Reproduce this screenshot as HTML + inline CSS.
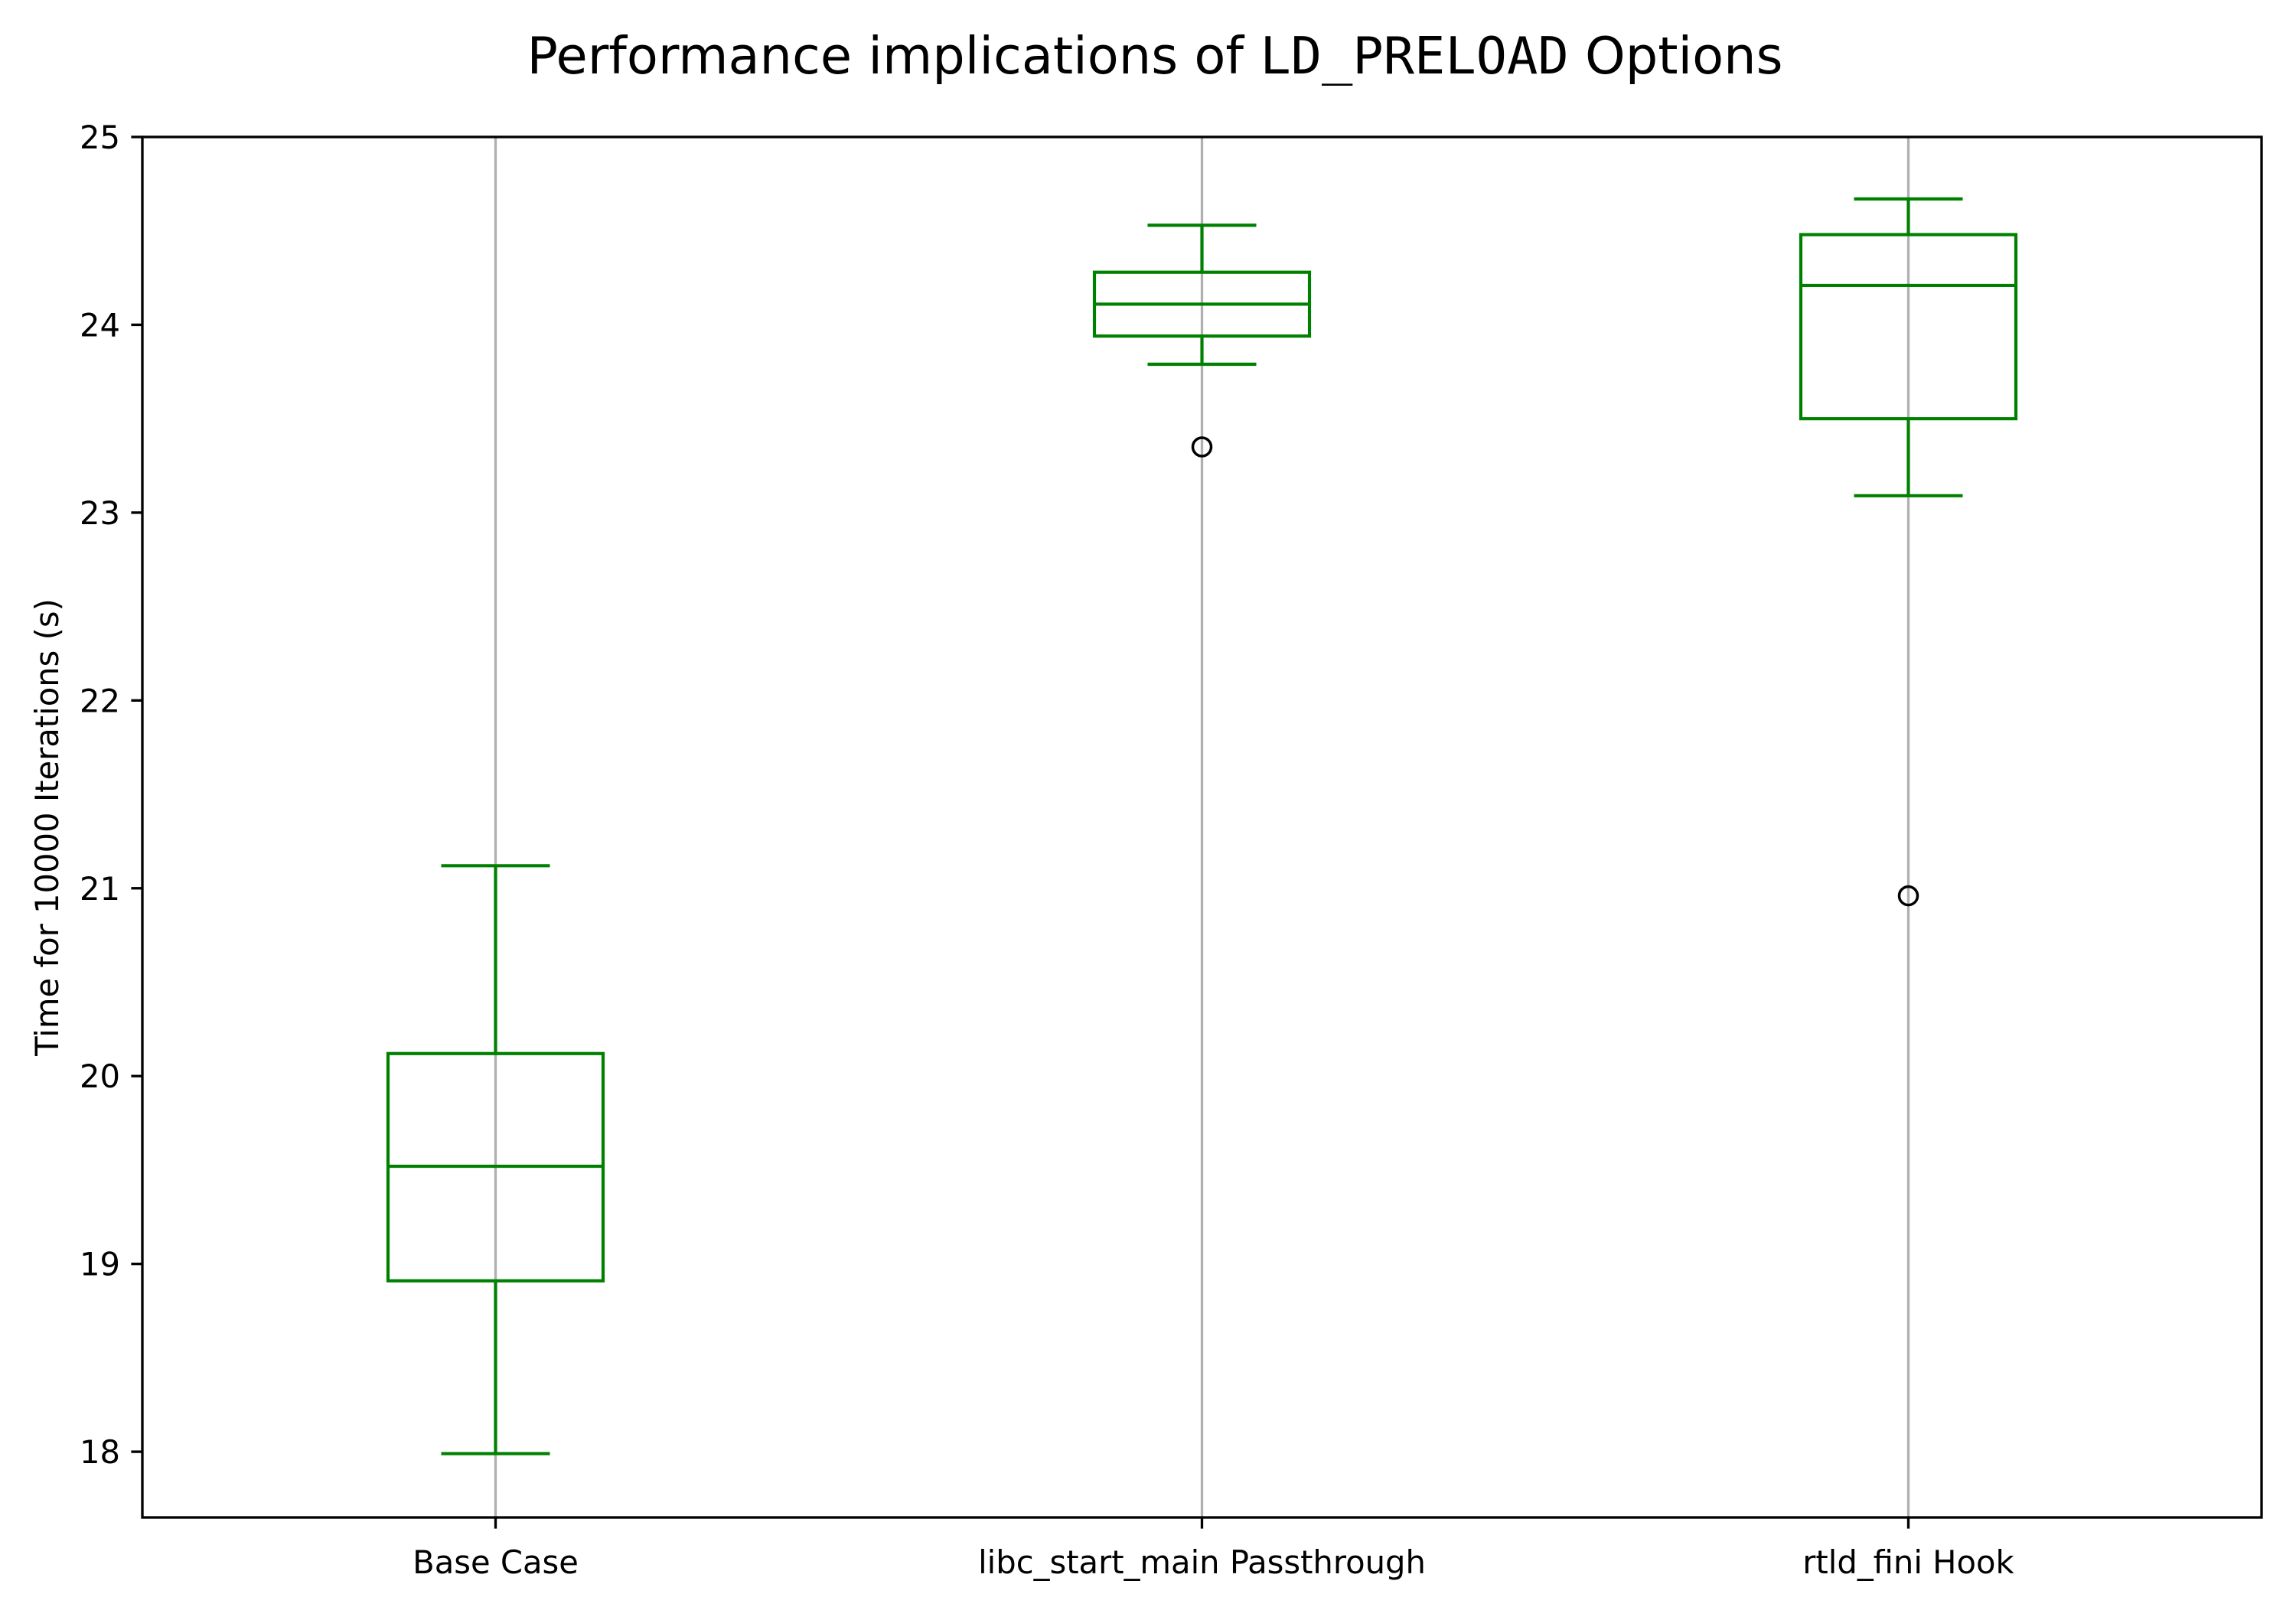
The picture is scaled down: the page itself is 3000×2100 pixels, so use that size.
<!DOCTYPE html>
<html><head><meta charset="utf-8"><style>html,body{margin:0;padding:0;background:#fff}svg{display:block}</style></head>
<body>
<svg id="chart" width="3000" height="2100" viewBox="0 0 3000 2100" xmlns="http://www.w3.org/2000/svg" font-family="'DejaVu Sans','Liberation Sans',sans-serif">
<rect width="3000" height="2100" fill="#fff"/>
<text x="1509" y="96" font-size="67" text-anchor="middle">Performance implications of <tspan font-family="'DejaVu Sans Mono','Liberation Mono',monospace">LD_PRELOAD</tspan> Options</text>
<g id="grid"></g><g id="boxes"></g><g id="axes"></g>
<text transform="translate(76,1081) rotate(-90)" font-size="41.7" text-anchor="middle">Time for 10000 Iterations (s)</text>
</svg>
<script>
const categories = ["Base Case", "libc_start_main Passthrough", "rtld_fini Hook"];
const whiskerLow = [17.99, 23.79, 23.09];
const q1 = [18.91, 23.94, 23.50];
const medians = [19.52, 24.11, 24.21];
const q3 = [20.12, 24.28, 24.48];
const whiskerHigh = [21.12, 24.53, 24.67];
const outliers = [[], [23.35], [20.96]];
const yTicks = [18, 19, 20, 21, 22, 23, 24, 25];

const L=186,R=2955,T=179,B=1983;
const yMin=17.65,yMax=25;
const y=v=>B-(v-yMin)/(yMax-yMin)*(B-T);
const x=i=>L+(i+0.5)/categories.length*(R-L);
const NS="http://www.w3.org/2000/svg";
function mk(tag,attrs,parent){const e=document.createElementNS(NS,tag);for(const k in attrs)e.setAttribute(k,attrs[k]);parent.appendChild(e);return e;}
const grid=document.getElementById('grid'),boxes=document.getElementById('boxes'),axes=document.getElementById('axes');
const G="#008000",SW=4.17,BH=140.5,CH=71;
categories.forEach((c,i)=>{
  const cx=x(i);
  const gl=mk('line',{x1:cx,x2:cx,y1:T,y2:B,stroke:'#b0b0b0','stroke-width':3.33},grid);
  
  
  const g=mk('g',{},boxes);
  
  
  mk('line',{x1:cx,x2:cx,y1:y(whiskerLow[i]),y2:y(q1[i]),stroke:G,'stroke-width':SW},g);
  mk('line',{x1:cx,x2:cx,y1:y(q3[i]),y2:y(whiskerHigh[i]),stroke:G,'stroke-width':SW},g);
  mk('line',{x1:cx-CH,x2:cx+CH,y1:y(whiskerLow[i]),y2:y(whiskerLow[i]),stroke:G,'stroke-width':SW},g);
  mk('line',{x1:cx-CH,x2:cx+CH,y1:y(whiskerHigh[i]),y2:y(whiskerHigh[i]),stroke:G,'stroke-width':SW},g);
  mk('rect',{x:cx-BH,y:y(q3[i]),width:2*BH,height:y(q1[i])-y(q3[i]),fill:'none',stroke:G,'stroke-width':SW},g);
  mk('line',{x1:cx-BH,x2:cx+BH,y1:y(medians[i]),y2:y(medians[i]),stroke:G,'stroke-width':SW},g);
  outliers[i].forEach(v=>{
    const o=mk('circle',{cx:cx,cy:y(v),r:12,fill:'none',stroke:'#000','stroke-width':3.5},g);
    
    
  });
  mk('line',{x1:cx,x2:cx,y1:B,y2:B+14.6,stroke:'#000','stroke-width':3.33},axes);
  const t=mk('text',{x:cx,y:B+73,'font-size':41.7,'text-anchor':'middle'},axes);
  t.textContent=c;
  
  
});
yTicks.forEach(v=>{
  mk('line',{x1:L-14.6,x2:L,y1:y(v),y2:y(v),stroke:'#000','stroke-width':3.33},axes);
  const t=mk('text',{x:L-29,y:y(v)+15,'font-size':41.7,'text-anchor':'end'},axes);
  t.textContent=v;
  
  
});
const fr=mk('rect',{x:L,y:T,width:R-L,height:B-T,fill:'none',stroke:'#000','stroke-width':3.33},axes);


</script>
</body></html>
